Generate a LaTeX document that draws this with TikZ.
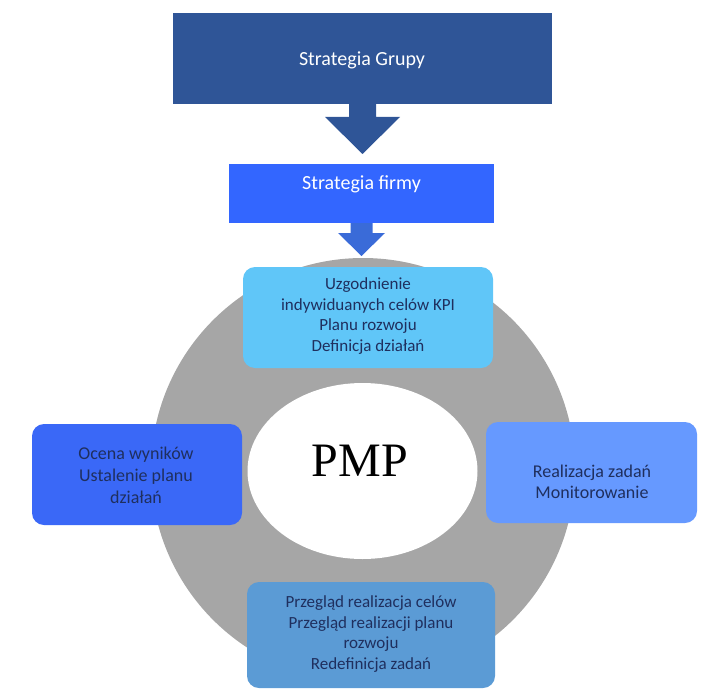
\documentclass[tikz,border=0pt]{standalone}
\usepackage{fontspec}
\setmainfont{Carlito}
\newfontfamily\pmpfont{Liberation Serif}
\usetikzlibrary{calc,shapes.geometric}
\definecolor{darkblue}{HTML}{2F5597}
\definecolor{brightblue}{HTML}{3366FF}
\definecolor{arrowtwo}{HTML}{3A6BD8}
\definecolor{ringgray}{HTML}{A6A6A6}
\definecolor{skyblue}{HTML}{60C6F8}
\definecolor{leftblue}{HTML}{3A68F7}
\definecolor{rightblue}{HTML}{6699FF}
\definecolor{steelblue}{HTML}{5B9BD5}
\definecolor{navytext}{HTML}{1F2F5E}
\tikzset{
  topbox/.style={rectangle, draw=none, inner sep=0pt},
  wtext/.style={text=white, inner sep=0pt, font=\fontsize{20}{24}\selectfont},
  cyclebox/.style={rectangle, rounded corners=12pt, draw=none, inner sep=0pt},
  ctext/.style={text=navytext, align=center, inner sep=0pt, font=\fontsize{17}{20.5}\selectfont},
  stext/.style={text=navytext, align=center, inner sep=0pt, font=\fontsize{18}{22}\selectfont},
}
\begin{document}
\begin{tikzpicture}[x=1pt,y=-1pt]
\useasboundingbox (0,0) rectangle (706,690);
% top box
\node[topbox, fill=darkblue, minimum width=379pt, minimum height=91pt] (grupa) at (362,58.5) {};
\node[wtext] (grupatext) at (362,60) {Strategia Grupy};
% arrow 1
\fill[darkblue] (grupa.south -| 349,0) -- (349,117) -- (325,117) -- (362.5,154) -- (400,117) -- (376,117) -- (grupa.south -| 376,0) -- cycle;
% box 2
\node[topbox, fill=brightblue, minimum width=265pt, minimum height=59pt] (firma) at (361.5,193.5) {};
\node[wtext] (firmatext) at (361.5,184.5) {Strategia firmy};
% arrow 2
\fill[arrowtwo] (firma.south -| 350.5,0) -- (350.5,233) -- (338,233) -- (361.5,256) -- (385,233) -- (372.5,233) -- (firma.south -| 372.5,0) -- cycle;
% ring
\node[circle, fill=ringgray, minimum size=424pt, inner sep=0pt] (ring) at (363,470) {};
\node[ellipse, fill=white, minimum width=230pt, minimum height=176pt, inner sep=0pt] (pmp) at (362.5,471) {};
\node[inner sep=0pt, font=\pmpfont\fontsize{48}{52}\selectfont] (pmptext) at (360,461) {PMP};
% cycle boxes
\node[cyclebox, fill=skyblue, minimum width=250pt, minimum height=101pt] (uzg) at (368,317.5) {};
\node[ctext] (uzgtext) at (368,316) {Uzgodnienie\\indywiduanych celów KPI\\Planu rozwoju\\Definicja działań};
\node[cyclebox, fill=leftblue, minimum width=210pt, minimum height=101pt] (ocena) at (137,474.5) {};
\node[stext] (ocenatext) at (136,475) {Ocena wyników\\Ustalenie planu\\działań};
\node[cyclebox, fill=rightblue, minimum width=211pt, minimum height=101pt] (real) at (591.5,472.5) {};
\node[stext, font=\fontsize{18}{20.5}\selectfont] (realtext) at (592,482) {Realizacja zadań\\Monitorowanie};
\node[cyclebox, fill=steelblue, minimum width=248pt, minimum height=106pt] (przeg) at (371,635) {};
\node[ctext] (przegtext) at (371,634) {Przegląd realizacja celów\\Przegląd realizacji planu\\rozwoju\\Redefinicja zadań};
\end{tikzpicture}
\end{document}
